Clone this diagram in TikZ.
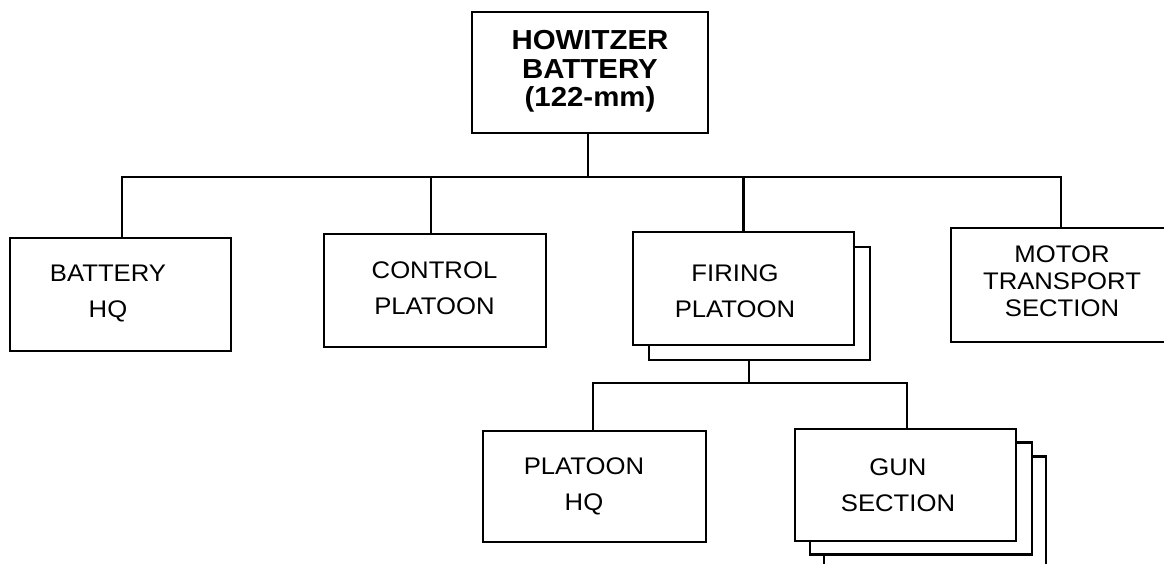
\documentclass[tikz,border=0pt]{standalone}
\usepackage{fontspec}
\setmainfont{Liberation Sans}[FakeStretch=1.07]
\begin{document}
\begin{tikzpicture}[x=1pt,y=-1pt,
  box/.style={draw,line width=2.6pt,fill=white,rectangle,inner sep=0pt,minimum width=221pt,minimum height=113pt},
  lbl/.style={align=center,inner sep=0pt,font=\fontsize{24}{36}\selectfont},
  conn/.style={line width=2.6pt}]
\useasboundingbox (0,0) rectangle (1164,564);
% boxes
\node[box,minimum width=236pt,minimum height=121pt] (top) at (590,72.5) {};
\node[box] (bhq) at (120.5,294.5) {};
\node[box,minimum width=222pt] (ctl) at (435,290.5) {};
\node[box] (firback) at (759.5,303.5) {};
\node[box] (fir) at (743.5,288.5) {};
\node[box,minimum width=220pt,minimum height=114pt] (mot) at (1061,285) {};
\node[box,minimum width=223pt,minimum height=111pt] (phq) at (594.5,486.5) {};
\node[box,minimum width=222pt,minimum height=112pt] (gunc) at (935,512.5) {};
\node[box,minimum width=222pt,minimum height=112pt] (gunb) at (921,498.5) {};
\node[box,minimum height=112pt] (gun) at (905.5,485) {};
% labels
\node[lbl,font=\fontsize{27.5}{28.4}\selectfont\bfseries] (ttop) at (590,71.5) {HOWITZER\\BATTERY\\(122-mm)};
\node[lbl] (tbhq) at (108,294) {BATTERY\\HQ};
\node[lbl] (tctl) at (434.5,288.5) {CONTROL\\PLATOON};
\node[lbl] (tfir) at (735,291) {FIRING\\PLATOON};
\node[lbl,font=\fontsize{24}{27}\selectfont] (tmot) at (1062,281) {MOTOR\\TRANSPORT\\SECTION};
\node[lbl] (tphq) at (584,486) {PLATOON\\HQ};
\node[lbl] (tgun) at (898,485) {GUN\\SECTION};
% connectors
\coordinate (bus) at (0,177);
\coordinate (sub) at (0,383);
\draw[conn] ([xshift=-2pt]top.south) -- ([xshift=-2pt]top.south |- bus);
\draw[conn] ([xshift=1.5pt]bhq.north) -- ([xshift=1.5pt]bhq.north |- bus) -- (mot.north |- bus) -- (mot.north);
\draw[conn] ([xshift=-4pt]ctl.north) -- ([xshift=-4pt]ctl.north |- bus);
\draw[conn] (fir.north) -- (fir.north |- bus);
\draw[conn] ([xshift=-10.5pt]firback.south) -- ([xshift=-10.5pt]firback.south |- sub);
\draw[conn] ([xshift=-1.5pt]phq.north) -- ([xshift=-1.5pt]phq.north |- sub) -- ([xshift=1.5pt]gun.north |- sub) -- ([xshift=1.5pt]gun.north);
\end{tikzpicture}
\end{document}
